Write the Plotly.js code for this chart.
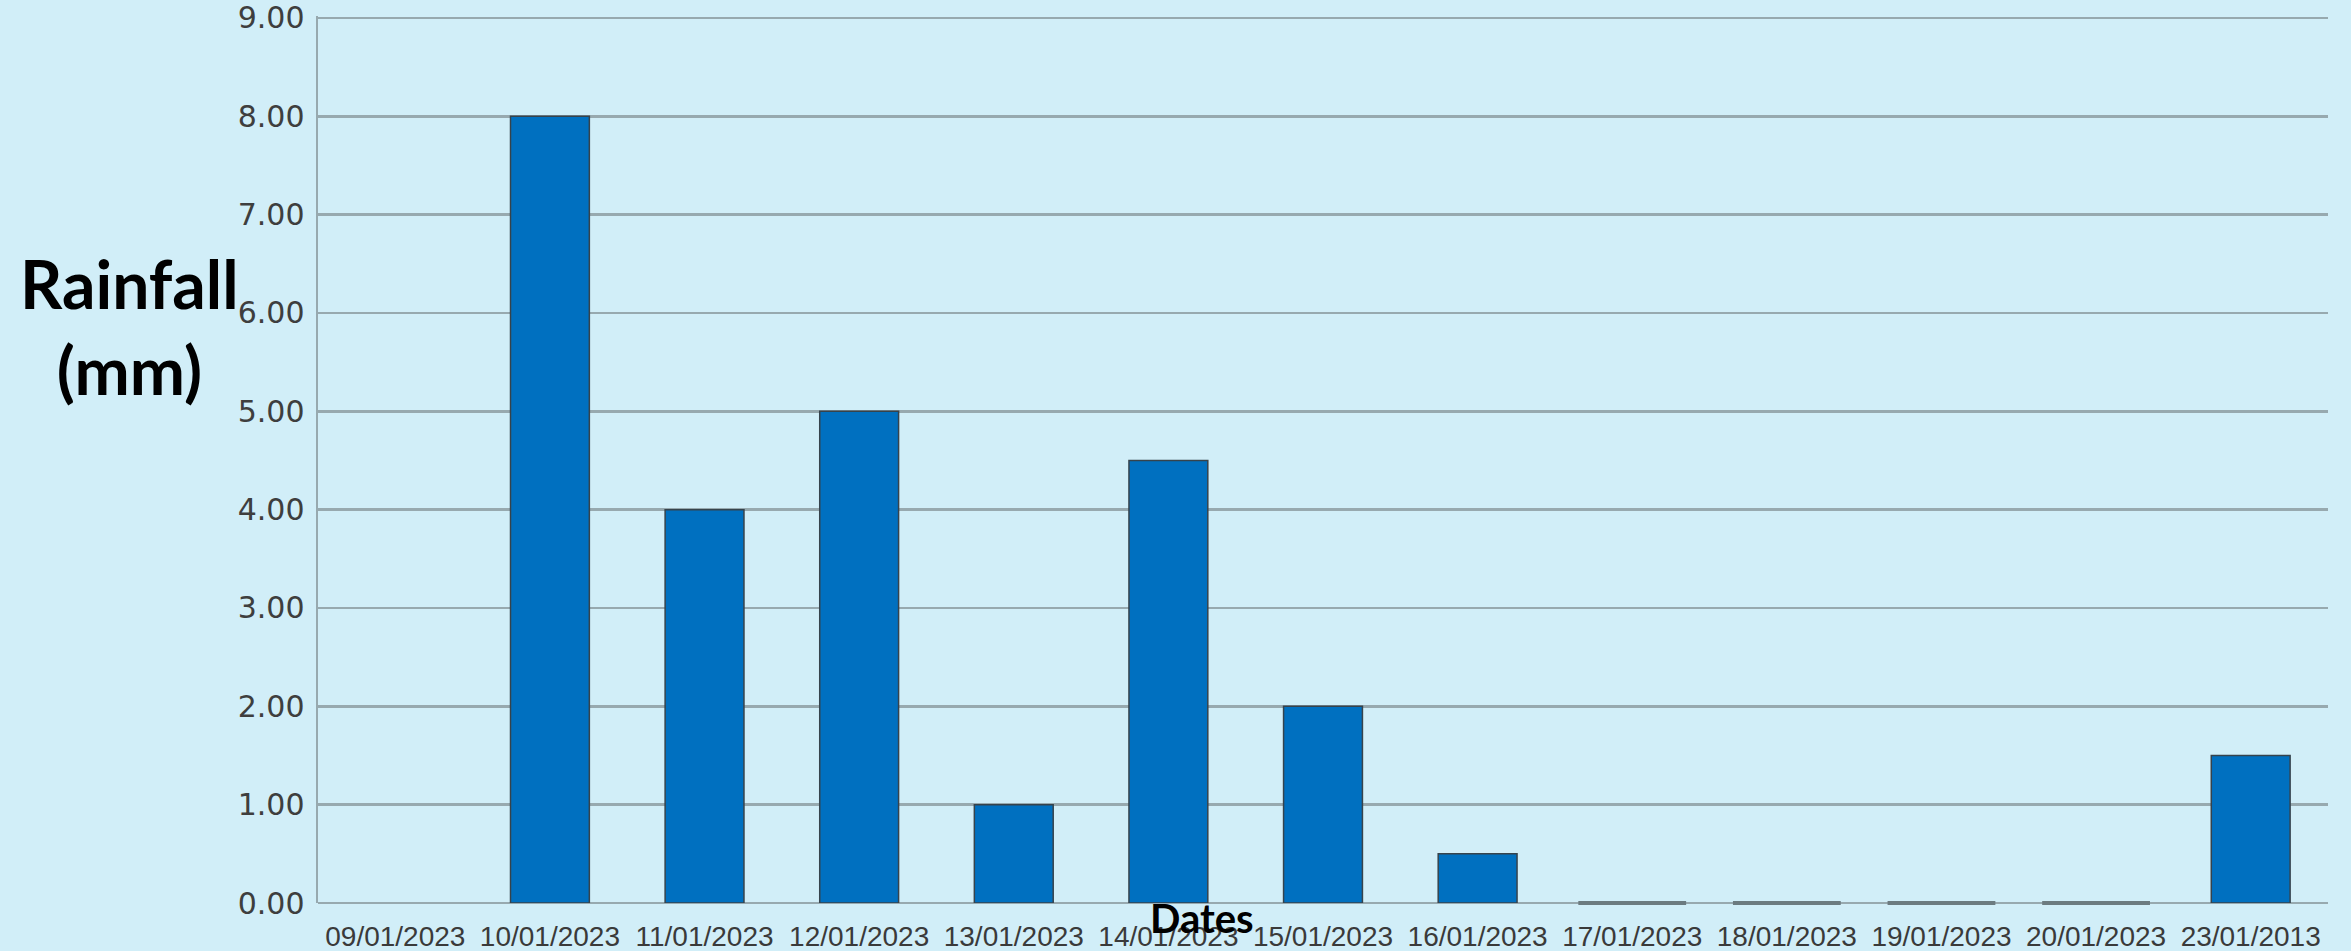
<!DOCTYPE html>
<html>
<head>
<meta charset="utf-8">
<script src="https://cdn.plot.ly/plotly-3.0.1.min.js"></script>
<style>
  html, body { margin: 0; padding: 0; background: #d1eef8; }
  #chart { width: 2351px; height: 951px; }
</style>
</head>
<body>
<div id="chart"></div>
<script>
const dates = ["09/01/2023", "10/01/2023", "11/01/2023", "12/01/2023", "13/01/2023", "14/01/2023",
               "15/01/2023", "16/01/2023", "17/01/2023", "18/01/2023", "19/01/2023", "20/01/2023", "23/01/2013"];
const rainfall = [null, 8, 4, 5, 1, 4.5, 2, 0.5, 0, 0, 0, 0, 1.5];
const yTitle = "Rainfall<br>(mm)";
const xTitle = "Dates";

const zeroX = dates.filter((d, i) => rainfall[i] === 0);
const zeroY = rainfall.filter(v => v === 0);

const bg = "#d1eef8";
const grid = "#97a9af";

const traces = [
  {
    type: "bar",
    x: dates,
    y: rainfall,
    marker: { color: "#0070c0", line: { color: "#36434c", width: 1.5 } },
    hoverinfo: "x+y"
  },
  {
    type: "scatter",
    mode: "markers",
    x: zeroX,
    y: zeroY,
    marker: { symbol: "line-ew", size: 77, line: { color: "#6c7b80", width: 4 } },
    hoverinfo: "x+y",
    cliponaxis: false
  }
];

const layout = {
  width: 2351,
  height: 951,
  paper_bgcolor: bg,
  plot_bgcolor: bg,
  showlegend: false,
  bargap: 0.49,
  margin: { l: 318, r: 23, t: 16, b: 48, pad: 0 },
  xaxis: {
    type: "category",
    tickfont: { family: "Liberation Sans, Arial, sans-serif", size: 28, color: "#3a3a3a" },
    ticks: "",
    ticklabelstandoff: 14,
    showgrid: false,
    showline: false,
    zeroline: false,
    fixedrange: true
  },
  yaxis: {
    range: [0, 9.02],
    tickvals: [0, 1, 2, 3, 4, 5, 6, 7, 8, 9],
    tickformat: ".2f",
    tickfont: { family: "DejaVu Sans, sans-serif", size: 30, color: "#3e3e3e" },
    ticks: "",
    ticklabelstandoff: 5,
    showgrid: true,
    gridcolor: grid,
    gridwidth: 2.5,
    zeroline: true,
    zerolinecolor: grid,
    zerolinewidth: 2.5,
    showline: true,
    linecolor: grid,
    linewidth: 2.5,
    fixedrange: true
  },
  annotations: [
    {
      text: yTitle,
      xref: "paper", yref: "paper",
      x: -0.094, y: 0.65,
      xanchor: "center", yanchor: "middle",
      showarrow: false,
      align: "center",
      font: { family: "Lato, Open Sans, sans-serif", size: 66, color: "#000000", weight: "bold" }
    },
    {
      text: xTitle,
      xref: "paper", yref: "paper",
      x: 0.44, y: 0,
      xanchor: "center", yanchor: "middle",
      yshift: -15,
      showarrow: false,
      font: { family: "Lato, Open Sans, sans-serif", size: 40, color: "#000000", weight: "bold" }
    }
  ]
};

Plotly.newPlot("chart", traces, layout, { displayModeBar: false, staticPlot: true });
</script>
</body>
</html>
